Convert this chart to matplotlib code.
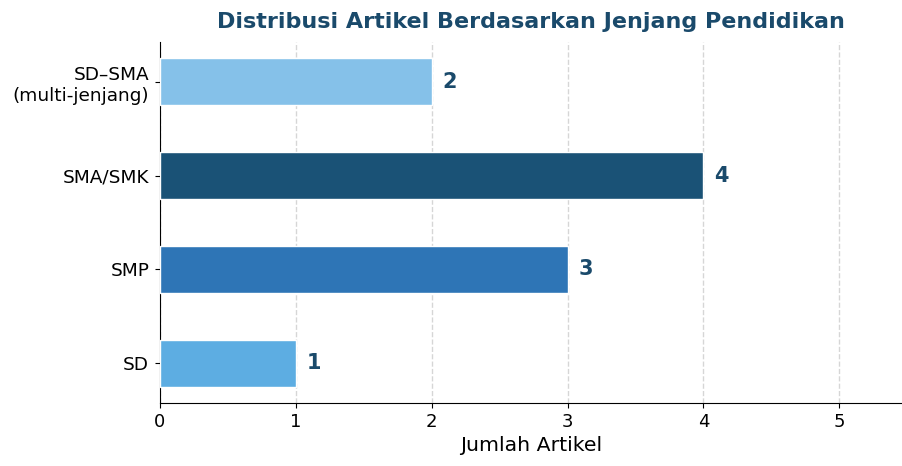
import matplotlib
matplotlib.use("Agg")
import matplotlib.pyplot as plt

categories = ["SD", "SMP", "SMA/SMK", "SD–SMA\n(multi-jenjang)"]
values = [1, 3, 4, 2]
colors = ["#5DADE2", "#2E75B6", "#1A5276", "#85C1E9"]
title_color = "#1A4A6B"

fig = plt.figure(figsize=(9.02, 4.66), dpi=100)
ax = fig.add_axes([0.177, 0.135, 0.823, 0.775])

ax.barh(categories, values, height=0.5, color=colors, edgecolor="white", linewidth=1, zorder=3)
for i, v in enumerate(values):
    ax.text(v + 0.08, i, str(v), va="center", ha="left", fontsize=15,
            fontweight="bold", color=title_color)

ax.set_xlim(0, 5.46)
ax.set_xticks([0, 1, 2, 3, 4, 5])
ax.grid(axis="x", linestyle="--", linewidth=1.0, color="#cccccc", alpha=0.8, zorder=0)
ax.spines["top"].set_visible(False)
ax.spines["right"].set_visible(False)
ax.tick_params(axis="y", labelsize=13.3, pad=4)
ax.tick_params(axis="x", labelsize=13)
ax.set_xlabel("Jumlah Artikel", fontsize=14.7)
ax.set_title("Distribusi Artikel Berdasarkan Jenjang Pendidikan", fontsize=16,
             fontweight="bold", color=title_color, pad=10)

fig.savefig("out.png", dpi=100)
